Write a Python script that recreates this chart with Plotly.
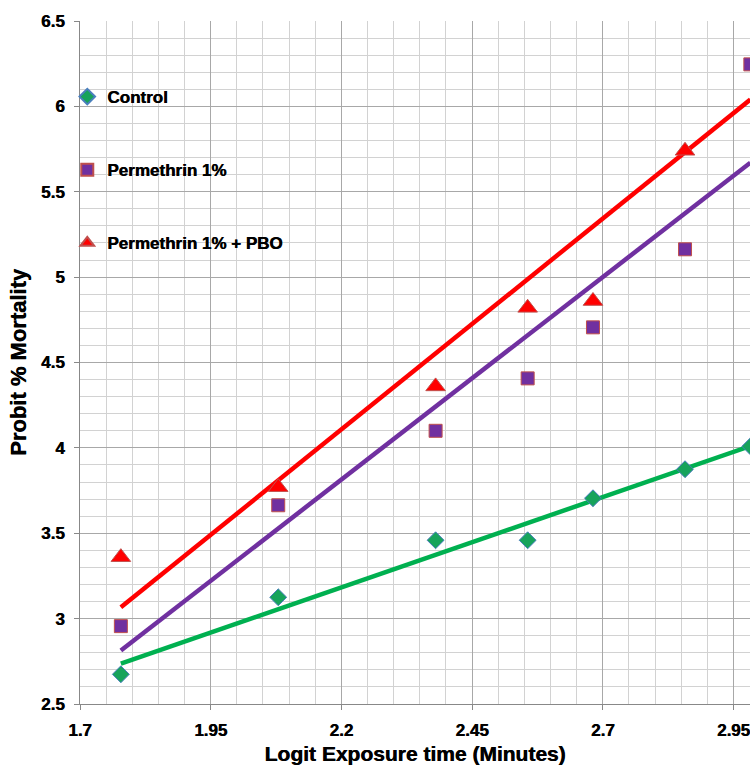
import numpy as np
import plotly.graph_objects as go

exposure_minutes = [60, 120, 240, 360, 480, 720, 960]
logit_time = list(np.log10(exposure_minutes))

control = [2.674, 3.125, 3.459, 3.459, 3.705, 3.875, 4.009]
permethrin = [2.956, 3.664, 4.10, 4.407, 4.706, 5.163, 6.246]
permethrin_pbo = [3.36, 3.77, 4.36, 4.82, 4.86, 5.74, 6.575]

series = [
    ("Control", control, "diamond", "#17a35b", "#4a7fbd", "#00b050"),
    ("Permethrin 1%", permethrin, "square", "#7030a0", "#c0504d", "#7030a0"),
    ("Permethrin 1% + PBO", permethrin_pbo, "triangle-up", "#ff0000", "#c0504d", "#ff0000"),
]

FONT = "Liberation Sans, Arial, sans-serif"
SHADOW = "0.5px 0 0 black"
fig = go.Figure()

for name, ys, sym, fill, outline, linecol in series:
    slope, icpt = np.polyfit(logit_time, ys, 1)
    xl = [min(logit_time), max(logit_time)]
    fig.add_trace(go.Scatter(
        x=xl, y=[slope * v + icpt for v in xl], mode="lines",
        line=dict(color=linecol, width=4.5), showlegend=False, hoverinfo="skip",
    ))

for name, ys, sym, fill, outline, linecol in series:
    fig.add_trace(go.Scatter(
        x=logit_time, y=ys, mode="markers", name=name, legendgroup=name,
        marker=dict(symbol=sym, color=fill, size=13 if sym != "triangle-up" else 17,
                    line=dict(color=outline, width=1)),
        cliponaxis=True,
    ))

fig.update_layout(
    width=750, height=765,
    margin=dict(l=80, r=0, t=21, b=61),
    paper_bgcolor="white", plot_bgcolor="white",
    font=dict(family=FONT, size=14, color="black"),
    legend=dict(
        x=-0.019, y=0.915, xanchor="left", yanchor="top",
        bgcolor="rgba(0,0,0,0)", tracegroupgap=48,
        font=dict(family=FONT, size=17, weight="bold", shadow=SHADOW),
        itemsizing="constant", itemwidth=30,
    ),
    xaxis=dict(
        range=[1.7, 2.9816], tick0=1.7, dtick=0.25, automargin=False,
        showgrid=True, gridcolor="#a8a8a8", gridwidth=1,
        minor=dict(dtick=0.05, showgrid=True, gridcolor="#d2d2d2", gridwidth=1),
        ticks="outside", ticklen=5, tickcolor="#888", ticklabelstandoff=6,
        ticklabeloverflow="allow",
        showline=True, linecolor="#888", zeroline=False,
        tickfont=dict(family=FONT, size=17, weight="bold", shadow=SHADOW),
        title=dict(text="Logit Exposure time (Minutes)", standoff=12,
                   font=dict(family=FONT, size=21, weight="bold", shadow=SHADOW)),
    ),
    yaxis=dict(
        range=[2.5, 6.5], tick0=2.5, dtick=0.5, automargin=False,
        showgrid=True, gridcolor="#a8a8a8", gridwidth=1,
        minor=dict(dtick=0.1, showgrid=True, gridcolor="#d2d2d2", gridwidth=1),
        ticks="outside", ticklen=5, tickcolor="#888", ticklabelstandoff=6,
        showline=True, linecolor="#888", zeroline=False,
        tickfont=dict(family=FONT, size=17, weight="bold", shadow=SHADOW),
        title=dict(text="Probit % Mortality", standoff=8,
                   font=dict(family=FONT, size=22, weight="bold", shadow=SHADOW)),
    ),
)

fig.write_html("out.html")
